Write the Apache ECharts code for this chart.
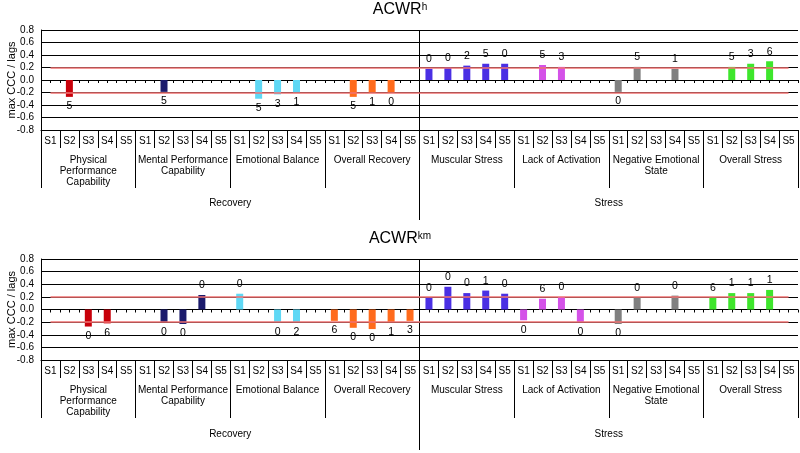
<!DOCTYPE html>
<html>
<head>
<meta charset="utf-8">
<script src="https://cdn.jsdelivr.net/npm/echarts@6/dist/echarts.min.js"></script>
<style>
  html, body { margin: 0; padding: 0; background: #fff; }
  #chart { width: 800px; height: 453px; }
</style>
</head>
<body>
<div id="chart"></div>
<script>
// categories
var sessions = ['S1', 'S2', 'S3', 'S4', 'S5'];
var groups = ['Physical\nPerformance\nCapability', 'Mental Performance\nCapability', 'Emotional Balance',
    'Overall Recovery', 'Muscular Stress', 'Lack of Activation', 'Negative Emotional\nState', 'Overall Stress'];
var sections = ['Recovery', 'Stress'];
var groupColors = ['#c8000a', '#1b1b6c', '#5fd8f5', '#ff6b1c', '#4a2fe4', '#d452e8', '#808080', '#3ee62c'];

// ACWR h : max CCC per session, 5 per group
var hValues = [
    null, -0.27, null, null, null,
    null, -0.19, null, null, null,
    null, -0.30, -0.23, -0.20, null,
    null, -0.27, -0.20, -0.20, null,
    0.18, 0.20, 0.23, 0.26, 0.26,
    null, 0.24, 0.21, null, null,
    -0.19, 0.21, null, 0.18, null,
    null, 0.21, 0.26, 0.30, null
];
var hLags = [
    null, 5, null, null, null,
    null, 5, null, null, null,
    null, 5, 3, 1, null,
    null, 5, 1, 0, null,
    0, 0, 2, 5, 0,
    null, 5, 3, null, null,
    0, 5, null, 1, null,
    null, 5, 3, 6, null
];

// ACWR km
var kmValues = [
    null, null, -0.27, -0.22, null,
    null, -0.20, -0.23, 0.23, null,
    0.25, null, -0.20, -0.20, null,
    -0.18, -0.29, -0.31, -0.20, -0.18,
    0.19, 0.36, 0.26, 0.30, 0.25,
    -0.17, 0.17, 0.20, -0.20, null,
    -0.23, 0.19, null, 0.22, null,
    0.19, 0.26, 0.26, 0.31, null
];
var kmLags = [
    null, null, 0, 6, null,
    null, 0, 0, 0, null,
    0, null, 0, 2, null,
    6, 0, 0, 1, 3,
    0, 0, 0, 1, 0,
    0, 6, 0, 0, null,
    0, 0, null, 0, null,
    6, 1, 1, 1, null
];

var thresholds = [0.2, -0.2];

var categories = [];
groups.forEach(function (g, gi) {
    sessions.forEach(function (s) { categories.push(gi + '-' + s); });
});

var el = document.getElementById('chart');
var myChart = echarts.init(el);

function xAxesFor(g, tickLen, groupMargin, sectionMargin) {
    return [
        {
            type: 'category', gridIndex: g, data: categories, position: 'bottom',
            axisLine: { show: true, onZero: false, lineStyle: { color: '#000' } },
            axisTick: { show: true, length: 18, lineStyle: { color: '#000' } },
            axisLabel: {
                interval: 0, margin: 6, fontSize: 10, color: '#000',
                formatter: function (v, i) { return sessions[i % 5]; }
            },
            splitLine: { show: false }
        },
        {
            type: 'category', gridIndex: g, data: groups, position: 'bottom',
            axisLine: { show: false, onZero: false },
            axisTick: { show: true, length: tickLen, lineStyle: { color: '#000' } },
            axisLabel: { interval: 0, margin: groupMargin, fontSize: 10, lineHeight: 11, color: '#000' },
            splitLine: { show: false }
        },
        {
            type: 'value', gridIndex: g, min: 0, max: 40, interval: 20, position: 'bottom',
            axisLine: { show: false, onZero: false },
            axisTick: { show: true, customValues: [20], length: 90, lineStyle: { color: '#000' } },
            axisLabel: {
                customValues: [10, 30], margin: sectionMargin, fontSize: 10, color: '#000',
                formatter: function (v) { return sections[Math.round((v - 10) / 20)]; }
            },
            splitLine: { show: true, lineStyle: { color: '#000', width: 1 } }
        },
        {
            type: 'value', gridIndex: g, min: 0, max: 40, interval: 0.5, position: 'bottom',
            axisLine: { show: false, onZero: true },
            axisTick: { show: true, length: 3, lineStyle: { color: '#000' } },
            axisLabel: { show: false },
            splitLine: { show: false }
        }
    ];
}

function yAxisFor(g) {
    return {
        type: 'value', gridIndex: g, min: -0.8, max: 0.8, interval: 0.2,
        name: 'max CCC / lags', nameLocation: 'middle', nameGap: 24, nameMoveOverlap: false,
        nameTextStyle: { fontSize: 11, color: '#000' },
        axisLine: { show: true, onZero: false, lineStyle: { color: '#000' } },
        axisTick: { show: false },
        axisLabel: {
            fontSize: 10, color: '#000', margin: 7,
            formatter: function (v) { return Math.abs(v) < 1e-9 ? '0.0' : v.toFixed(1); }
        },
        splitLine: { show: true, lineStyle: { color: '#000', width: 1 } }
    };
}

function barSeries(g, values, lags) {
    return {
        type: 'bar',
        xAxisIndex: g * 4,
        yAxisIndex: g,
        barWidth: 7,
        data: values.map(function (v) {
            if (v === null) return null;
            return { value: v, label: { position: v < 0 ? 'bottom' : 'top' } };
        }),
        itemStyle: {
            color: function (p) { return groupColors[Math.floor(p.dataIndex / 5)]; }
        },
        label: {
            show: true, distance: 4, fontSize: 10.5, color: '#000',
            formatter: function (p) { return lags[p.dataIndex]; }
        },
        markLine: {
            silent: true,
            symbol: 'none',
            label: { show: false },
            lineStyle: { color: '#f07272', width: 1.5, type: 'solid' },
            data: thresholds.map(function (t) {
                return [{ coord: [categories[0], t] }, { coord: [categories[39], t] }];
            })
        }
    };
}

var titleRich = {
    a: { fontSize: 16, color: '#000', fontWeight: 'normal', fontFamily: 'Liberation Sans' },
    b: { fontSize: 10, color: '#000', fontWeight: 'normal', verticalAlign: 'top', fontFamily: 'Liberation Sans' }
};

var option = {
    animation: false,
    textStyle: { fontFamily: 'Liberation Sans' },
    title: [
        { text: '{a|ACWR}{b|h}', left: 'center', top: -3, textStyle: { fontWeight: 'normal', rich: titleRich } },
        { text: '{a|ACWR}{b|km}', left: 'center', top: 226, textStyle: { fontWeight: 'normal', rich: titleRich } }
    ],
    grid: [
        { left: 41, right: 2, top: 30, height: 100, containLabel: false, outerBoundsMode: 'none' },
        { left: 41, right: 2, top: 259, height: 101, containLabel: false, outerBoundsMode: 'none' }
    ],
    xAxis: xAxesFor(0, 58, 25, 68).concat(xAxesFor(1, 58, 25, 69)),
    yAxis: [yAxisFor(0), yAxisFor(1)],
    series: [
        barSeries(0, hValues, hLags),
        barSeries(1, kmValues, kmLags)
    ]
};

myChart.setOption(option);
</script>
</body>
</html>
